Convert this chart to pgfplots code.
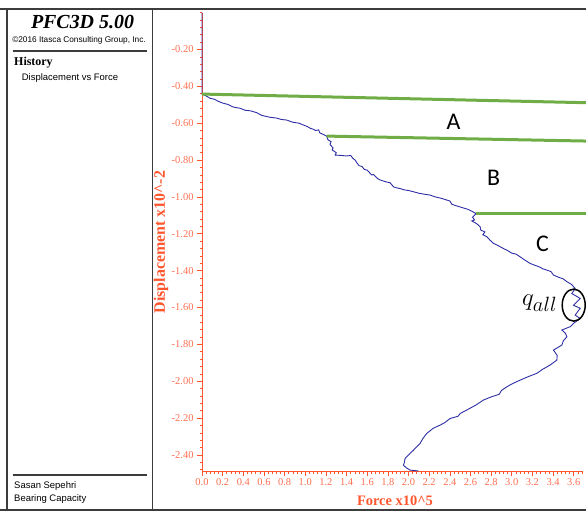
\documentclass[border=0pt]{standalone}
\usepackage{pgfplots}
\pgfplotsset{compat=1.18}
\usepackage{fontspec}
\setmainfont{Liberation Serif}
\newfontfamily\arialf{Liberation Sans}
\newfontfamily\calib{Carlito}
\definecolor{axred}{RGB}{255,85,45}
\definecolor{lblred}{RGB}{255,110,80}
\definecolor{curveblue}{RGB}{45,45,165}
\definecolor{grn}{RGB}{112,173,71}
\definecolor{frame}{RGB}{60,60,60}
\begin{document}
\begin{tikzpicture}
\path[use as bounding box] (0bp,0bp) rectangle (586bp,-512bp);
% frame
\draw[frame, line width=2bp] (0bp,-9.3bp) -- (586bp,-9.3bp);
\draw[frame, line width=2bp] (0bp,-510bp) -- (586bp,-510bp);
\draw[frame, line width=1.5bp] (7bp,-9.3bp) -- (7bp,-510bp);
\draw[frame, line width=1.5bp] (152.7bp,-9.3bp) -- (152.7bp,-510bp);
\draw[frame, line width=1.7bp] (12.7bp,-51bp) -- (146.7bp,-51bp);
\draw[frame, line width=1.7bp] (12.7bp,-475bp) -- (146.7bp,-475bp);
% left panel texts
\node[font=\fontsize{20}{22}\selectfont\bfseries\itshape] at (82.5bp,-21.7bp) {PFC3D 5.00};
\node[font=\arialf\fontsize{8.3}{9}\selectfont] at (79bp,-40bp) {\textcopyright2016 Itasca Consulting Group, Inc.};
\node[font=\fontsize{12}{13}\selectfont\bfseries, anchor=west, inner sep=0pt] at (14bp,-62.7bp) {History};
\node[font=\arialf\fontsize{9.5}{10}\selectfont, anchor=west, inner sep=0pt] at (21.7bp,-77.7bp) {Displacement vs Force};
\node[font=\arialf\fontsize{9.5}{10}\selectfont, anchor=west, inner sep=0pt] at (14bp,-486bp) {Sasan Sepehri};
\node[font=\arialf\fontsize{9.5}{10}\selectfont, anchor=west, inner sep=0pt] at (14bp,-499.5bp) {Bearing Capacity};
% axis labels
\node[rotate=90, font=\fontsize{16}{18}\selectfont\bfseries, text=axred] at (161bp,-242bp) {Displacement x10\textasciicircum-2};
\node[font=\fontsize{14.5}{16}\selectfont\bfseries, text=axred] at (395bp,-501bp) {Force x10\textasciicircum5};
\begin{axis}[
  scale only axis, width=381bp, height=458.4bp,
  at={(202bp,-471bp)}, anchor=south west,
  xmin=0, xmax=3.69, ymin=-2.487, ymax=0,
  axis x line*=bottom, axis y line*=left,
  clip=false,
  axis line style={axred, line width=0.8bp},
  tick style={axred, line width=0.6bp},
  major tick length=5bp, minor tick length=2.5bp,
  tick align=outside,
  xtick={0,0.2,0.4,0.6,0.8,1.0,1.2,1.4,1.6,1.8,2.0,2.2,2.4,2.6,2.8,3.0,3.2,3.4,3.6},
  xticklabels={0.0,0.2,0.4,0.6,0.8,1.0,1.2,1.4,1.6,1.8,2.0,2.2,2.4,2.6,2.8,3.0,3.2,3.4,3.6},
  ytick={-2.4,-2.2,-2.0,-1.8,-1.6,-1.4,-1.2,-1.0,-0.8,-0.6,-0.4,-0.2},
  yticklabels={-2.40,-2.20,-2.00,-1.80,-1.60,-1.40,-1.20,-1.00,-0.80,-0.60,-0.40,-0.20},
  minor xtick={0,0.04,...,3.68},
  minor ytick={-2.48,-2.44,...,-0.01},
  ticklabel style={font=\fontsize{10.5}{12}\selectfont, text=lblred},
  xticklabel style={yshift=1bp},
]
\addplot[curveblue, line width=0.9bp] coordinates {
(0,0) (0,-0.442)
(0.04,-0.452)(0.078,-0.465)(0.12,-0.470)(0.16,-0.482)(0.206,-0.492)(0.25,-0.498)(0.30,-0.512)(0.368,-0.519)(0.42,-0.530)(0.47,-0.533)(0.530,-0.543)(0.58,-0.558)(0.659,-0.568)(0.72,-0.572)(0.77,-0.580)(0.821,-0.583)(0.88,-0.595)(0.94,-0.600)(0.982,-0.610)(1.02,-0.618)(1.05,-0.628)(1.079,-0.633)(1.10,-0.640)(1.13,-0.636)(1.14,-0.652)(1.17,-0.660)(1.208,-0.670)(1.22,-0.690)(1.25,-0.700)(1.24,-0.715)(1.27,-0.735)(1.26,-0.745)(1.30,-0.760)(1.29,-0.773)(1.35,-0.775)(1.402,-0.778)(1.44,-0.775)(1.46,-0.790)(1.483,-0.800)(1.50,-0.815)(1.52,-0.830)(1.55,-0.835)(1.57,-0.850)(1.60,-0.855)(1.644,-0.881)(1.66,-0.878)(1.70,-0.900)(1.725,-0.908)(1.78,-0.918)(1.822,-0.923)(1.854,-0.945)
(1.88,-0.950)(1.92,-0.955)(1.96,-0.962)(2.00,-0.965)(2.048,-0.972)(2.10,-0.980)(2.15,-0.985)(2.209,-0.990)(2.26,-1.000)(2.32,-1.008)(2.371,-1.017)(2.40,-1.022)(2.42,-1.040)(2.468,-1.049)(2.52,-1.058)(2.58,-1.068)(2.655,-1.09)(2.62,-1.11)(2.64,-1.125)(2.613,-1.13)(2.66,-1.145)(2.694,-1.162)(2.70,-1.18)(2.74,-1.19)(2.72,-1.205)(2.759,-1.216)(2.79,-1.235)(2.823,-1.252)(2.87,-1.265)(2.92,-1.28)(2.953,-1.289)(3.00,-1.305)(3.04,-1.31)(3.081,-1.325)(3.12,-1.34)(3.178,-1.361)(3.22,-1.37)(3.27,-1.38)(3.30,-1.39)(3.340,-1.397)(3.38,-1.405)(3.404,-1.424)(3.45,-1.435)(3.50,-1.445)(3.534,-1.460)(3.58,-1.475)(3.614,-1.497)(3.582,-1.524)(3.663,-1.551)(3.598,-1.588)(3.663,-1.604)(3.614,-1.641)(3.663,-1.660)(3.60,-1.685)(3.566,-1.704)(3.485,-1.722)(3.52,-1.74)(3.534,-1.759)(3.50,-1.78)(3.485,-1.804)(3.404,-1.831)(3.44,-1.86)(3.437,-1.885)(3.372,-1.912)(3.30,-1.935)(3.243,-1.957)(3.16,-1.975)(3.081,-1.994)(3.00,-2.015)(2.953,-2.030)(2.90,-2.05)(2.88,-2.07)(2.856,-2.075)(2.80,-2.085)(2.726,-2.102)(2.65,-2.13)(2.565,-2.156)(2.50,-2.175)(2.48,-2.19)(2.403,-2.202)(2.35,-2.225)(2.306,-2.238)(2.24,-2.255)(2.177,-2.283)(2.14,-2.31)(2.112,-2.337)(2.08,-2.355)(2.048,-2.374)(2.00,-2.40)(1.967,-2.419)(1.96,-2.44)(1.951,-2.456)(1.98,-2.47)(2.016,-2.482)(2.096,-2.487)
};
\addplot[grn, line width=3bp] coordinates {(0,-0.442) (3.73,-0.489)};
\addplot[grn, line width=3bp] coordinates {(1.208,-0.670) (3.73,-0.697)};
\addplot[grn, line width=3bp] coordinates {(2.655,-1.09) (3.73,-1.09)};
\node[font=\calib\fontsize{24}{26}\selectfont] at (axis cs:2.436,-0.592) {A};
\node[font=\calib\fontsize{24}{26}\selectfont] at (axis cs:2.824,-0.899) {B};
\node[font=\calib\fontsize{24}{26}\selectfont] at (axis cs:3.297,-1.252) {C};
\node[font=\fontsize{29}{31}\selectfont, inner sep=0pt] at (axis cs:3.27,-1.575) {$q_{all}$};
\draw[black, line width=1.5bp] (axis cs:3.6,-1.587) ellipse [x radius=11.5bp, y radius=16bp];
\end{axis}
\end{tikzpicture}
\end{document}
